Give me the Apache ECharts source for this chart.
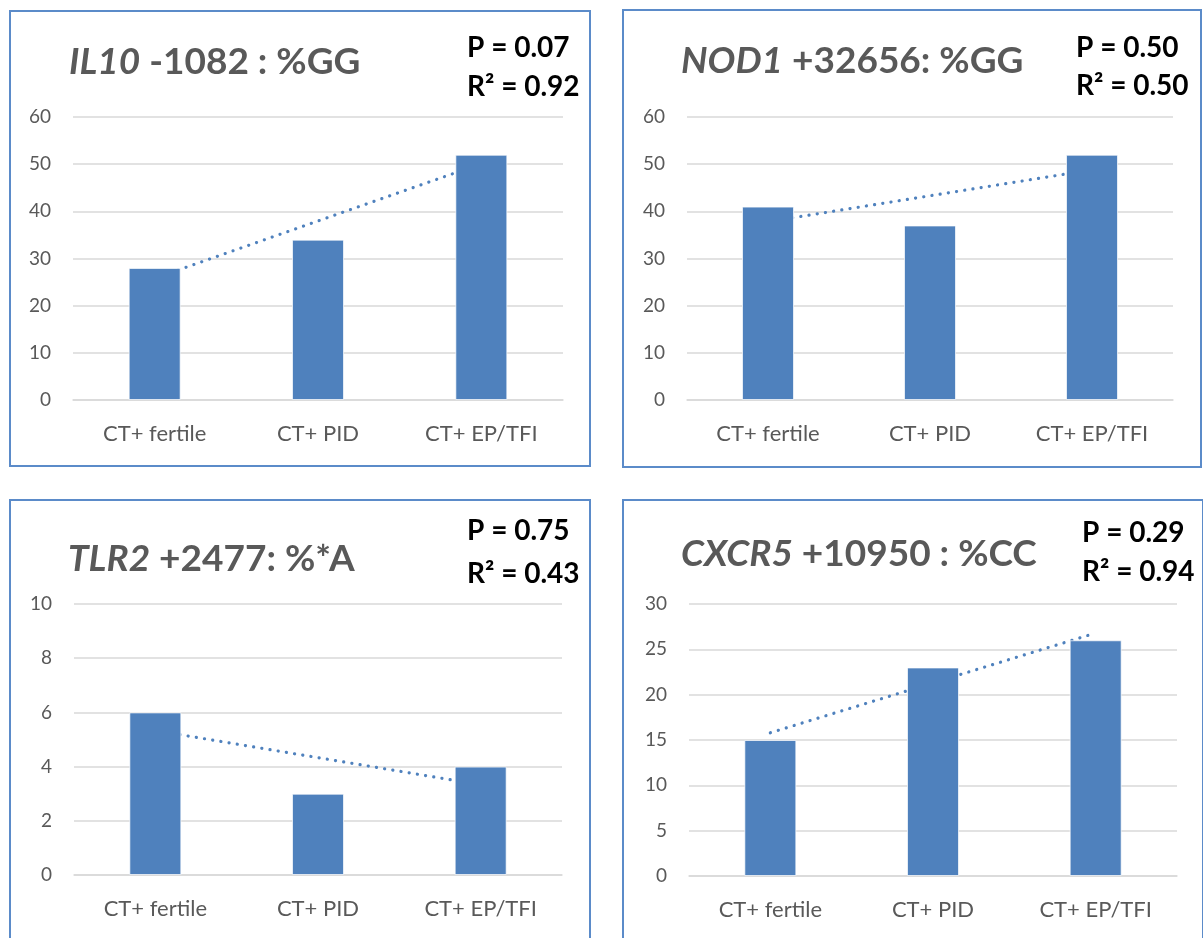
<!DOCTYPE html>
<html>
<head>
<meta charset="utf-8">
<script src="https://cdn.jsdelivr.net/npm/echarts@6/dist/echarts.min.js"></script>
<style>
  html, body { margin: 0; padding: 0; background: #fff; }
  #chart { width: 1203px; height: 938px; }
</style>
</head>
<body>
<div id="chart"></div>
<script>
// categories shared by the four panels
const categories = ['CT+ fertile', 'CT+ PID', 'CT+ EP/TFI'];

// bar values
const il10Values = [28, 34, 52];
const nod1Values = [41, 37, 52];
const tlr2Values = [6, 3, 4];
const cxcr5Values = [15, 23, 26];

// trendline end points (first / last category), middle left empty
const il10Trend = [25.8, null, 50.1];
const nod1Trend = [37.8, null, 48.8];
const tlr2Trend = [5.33, null, 3.33];
const cxcr5Trend = [15.8, null, 26.8];

// titles and stats
const geneNames = ['IL10', 'NOD1', 'TLR2', 'CXCR5'];
const geneSuffix = [' -1082 : %GG', ' +32656: %GG', ' +2477: %*A', ' +10950 : %CC'];
const pValues = ['P = 0.07', 'P = 0.50', 'P = 0.75', 'P = 0.29'];
const r2Values = ['R\u00B2 = 0.92', 'R\u00B2 = 0.50', 'R\u00B2 = 0.43', 'R\u00B2 = 0.94'];

// y axis scales
const yMax = [60, 60, 10, 30];
const yStep = [10, 10, 2, 5];

const FONT = 'Lato, "Open Sans", sans-serif';
const BLUE = '#4F81BD';
const GREY = '#595959';

var dom = document.getElementById('chart');
var myChart = echarts.init(dom, null, { renderer: 'canvas' });

// layout per panel (page pixels)
const panels = [
    { box: [10, 11, 580, 455], grid: [73, 117, 490, 283], title: [64, 36], stats: [467, 48, 87] },
    { box: [623, 10, 578, 457], grid: [687, 117, 486, 283], title: [676, 35], stats: [1076, 48, 86] },
    { box: [10, 500, 580, 460], grid: [74, 604, 488, 271], title: [63, 533], stats: [467, 531, 574] },
    { box: [623, 500, 580, 460], grid: [689, 604, 488, 272], title: [676, 528], stats: [1082, 533, 572] }
];
const valuesList = [il10Values, nod1Values, tlr2Values, cxcr5Values];
const trendList = [il10Trend, nod1Trend, tlr2Trend, cxcr5Trend];

var grids = [], xAxes = [], yAxes = [], series = [], titles = [], graphics = [];

panels.forEach(function (p, i) {
    grids.push({ left: p.grid[0], top: p.grid[1], width: p.grid[2], height: p.grid[3] });
    xAxes.push({
        type: 'category',
        gridIndex: i,
        data: categories,
        axisTick: { show: false },
        axisLine: { lineStyle: { color: '#D9D9D9', width: 1.5 } },
        axisLabel: { color: GREY, fontSize: 22, fontFamily: FONT, margin: 23 }
    });
    yAxes.push({
        type: 'value',
        gridIndex: i,
        min: 0,
        max: yMax[i],
        interval: yStep[i],
        axisLine: { show: false },
        axisTick: { show: false },
        splitLine: { lineStyle: { color: '#D9D9D9', width: 1.5 } },
        axisLabel: { color: GREY, fontSize: 19, fontFamily: FONT, margin: 22 }
    });
    series.push({
        type: 'line',
        xAxisIndex: i,
        yAxisIndex: i,
        data: trendList[i],
        connectNulls: true,
        symbol: 'none',
        z: 1,
        lineStyle: { color: BLUE, width: 3.2, type: [0.1, 8.2], cap: 'round' }
    });
    series.push({
        type: 'bar',
        xAxisIndex: i,
        yAxisIndex: i,
        data: valuesList[i],
        barWidth: 52,
        z: 2,
        itemStyle: { color: BLUE, borderColor: 'rgba(255,255,255,0.7)', borderWidth: 1 }
    });
    titles.push({
        left: p.title[0],
        top: p.title[1],
        text: '{i|' + geneNames[i] + '}{n|' + geneSuffix[i] + '}',
        textStyle: {
            rich: {
                i: { fontSize: 37, fontWeight: 'bold', fontStyle: 'italic', color: GREY, fontFamily: FONT, lineHeight: 42 },
                n: { fontSize: 37, fontWeight: 'bold', color: GREY, fontFamily: FONT, lineHeight: 42 }
            }
        }
    });
    graphics.push({
        type: 'rect',
        shape: { x: p.box[0], y: p.box[1], width: p.box[2], height: p.box[3] },
        style: { fill: null, stroke: '#5B8BC9', lineWidth: 2 },
        silent: true
    });
    graphics.push({
        type: 'text',
        x: p.stats[0],
        y: p.stats[1],
        style: { text: pValues[i], fill: '#000', font: 'bold 28px ' + FONT, verticalAlign: 'middle' }
    });
    graphics.push({
        type: 'text',
        x: p.stats[0],
        y: p.stats[2],
        style: { text: r2Values[i], fill: '#000', font: 'bold 28px ' + FONT, verticalAlign: 'middle' }
    });
});

var option = {
    animation: false,
    title: titles,
    grid: grids,
    xAxis: xAxes,
    yAxis: yAxes,
    series: series,
    graphic: graphics
};

myChart.setOption(option);
</script>
</body>
</html>
